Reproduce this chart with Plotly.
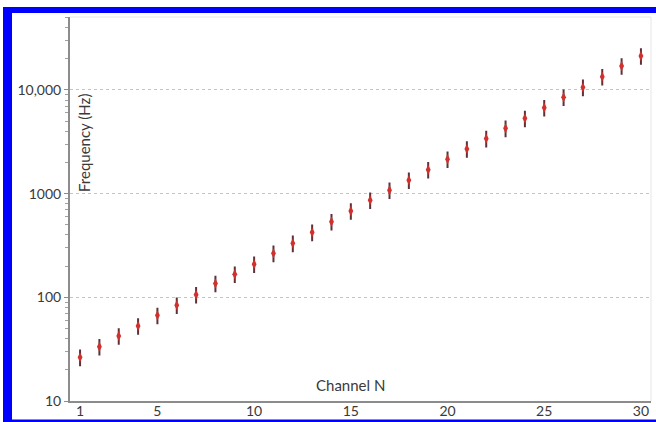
import plotly.graph_objects as go

# Centre frequency of each electrode channel (Hz)
channels = list(range(1, 31))
frequency_hz = [26.4, 33.4, 42.4, 53, 67, 84, 106, 136, 167, 209,
                266, 332, 424, 536, 680, 866, 1080, 1350, 1700, 2150,
                2700, 3400, 4270, 5330, 6750, 8510, 10620, 13430, 17030, 21280]
error_percent = 16

x_tickvals = [1, 5, 10, 15, 20, 25, 30]
y_tickvals = [10, 100, 1000, 10000]
y_ticktext = ["10", "100", "1000", "10,000"]
y_minor = [m * 10 ** d for d in range(1, 5) for m in range(2, 10)]

W, H = 656, 422
L, R, T, B = 70, 5, 17, 21
PW, PH = W - L - R, H - T - B


def px(x):
    return (x - L) / PW


def py(y):
    return (H - B - y) / PH


FONT = "Lato, 'Open Sans', sans-serif"
TXT = "#3a3a3a"
AXIS = "#8c8c8c"

fig = go.Figure()
fig.add_trace(go.Scatter(
    x=channels, y=frequency_hz, mode="markers",
    marker=dict(symbol="diamond-tall", size=7, color="#d0312d",
                line=dict(width=0)),
    error_y=dict(type="percent", value=error_percent, color="#5e3038",
                 thickness=2, width=1),
    showlegend=False,
))

blue = "#0000ff"
shapes = [
    # light frame on top and right of the plotting area
    dict(type="line", xref="paper", yref="paper", x0=0, x1=1, y0=1, y1=1,
         line=dict(color="#e6e6e6", width=1)),
    dict(type="line", xref="paper", yref="paper", x0=1, x1=1, y0=0, y1=1,
         line=dict(color="#e6e6e6", width=1)),
    # blue outer border
    dict(type="rect", xref="paper", yref="paper", x0=px(7), x1=px(W + 2),
         y0=py(13), y1=py(7), fillcolor=blue, line=dict(width=0), layer="above"),
    dict(type="rect", xref="paper", yref="paper", x0=px(3), x1=px(12),
         y0=py(H + 2), y1=py(7), fillcolor=blue, line=dict(width=0), layer="above"),
    dict(type="rect", xref="paper", yref="paper", x0=px(3), x1=px(W + 2),
         y0=py(H + 2), y1=py(419.5), fillcolor=blue, line=dict(width=0), layer="above"),
]

annotations = [
    dict(text="Channel N", xref="paper", yref="paper", x=px(350), y=py(385),
         showarrow=False, font=dict(family=FONT, size=15, color=TXT),
         xanchor="center", yanchor="middle"),
    dict(text="Frequency (Hz)", xref="paper", yref="paper", x=px(84), y=py(143),
         showarrow=False, textangle=-90, font=dict(family=FONT, size=15, color=TXT),
         xanchor="center", yanchor="middle"),
]

fig.update_layout(
    width=W, height=H,
    margin=dict(l=L, r=R, t=T, b=B, pad=0, autoexpand=False),
    paper_bgcolor="white", plot_bgcolor="white",
    font=dict(family=FONT, size=14, color=TXT),
    shapes=shapes, annotations=annotations,
    xaxis=dict(range=[0.48, 30.52], tickvals=x_tickvals, showgrid=False,
               zeroline=False, showline=True, linecolor=AXIS, linewidth=2,
               ticks="", automargin=False, ticklabelstandoff=-4,
               tickfont=dict(family=FONT, size=14, color=TXT)),
    yaxis=dict(type="log", range=[1, 4.704], tickvals=y_tickvals,
               ticktext=y_ticktext, showgrid=True, gridcolor="#c4c4c4",
               griddash="dot", gridwidth=1, zeroline=False, showline=True,
               linecolor=AXIS, linewidth=2, ticks="outside", ticklen=4,
               tickcolor=AXIS, tickwidth=1, automargin=False,
               minor=dict(tickvals=y_minor, ticks="outside", ticklen=3,
                          tickcolor="#a0a0a0", showgrid=False),
               tickfont=dict(family=FONT, size=14, color=TXT)),
)

fig.write_html("out.html")
